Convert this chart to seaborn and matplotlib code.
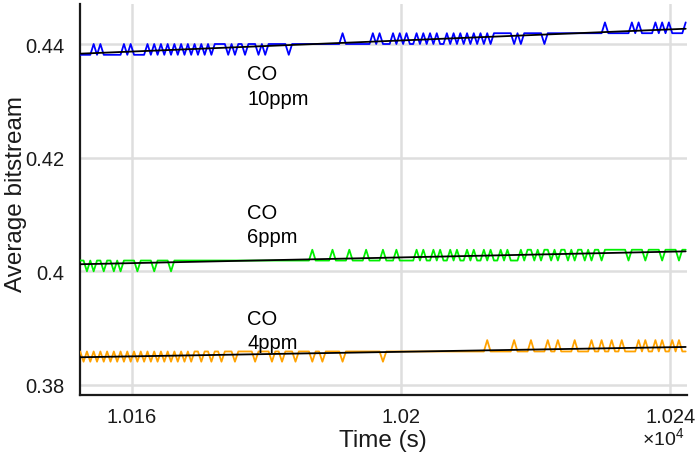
import numpy as np
import pandas as pd
import matplotlib
matplotlib.use("Agg")
import matplotlib.pyplot as plt
import seaborn as sns

# ---------------- data ----------------
t_start = 10152.3          # s, first sample
t_step = 0.5               # s, sampling interval
n_samples = 181

# quantised output levels of each sensor trace
blue_levels = [0.4381, 0.4400, 0.4419, 0.4438]
green_levels = [0.4000, 0.4019, 0.4038]
orange_levels = [0.3841, 0.3859, 0.3879]

# level index of every sample (CO 10 ppm)
blue_codes = (
    [0, 0, 0, 0] + [1, 0, 1] + [0, 0, 0, 0, 0, 0] + [1, 0, 1] + [0, 0, 0, 0]
    + [1, 0] * 10 + [1, 1, 1, 1] + [0, 1, 0, 1, 1, 0, 1, 1] + [1]
    + [0, 1, 0, 1] + [1, 1, 1, 1, 1] + [0] + [1] * 15 + [2] + [1] * 8
    + [2, 1, 2, 1] + [1, 1]
    + [2, 1, 2, 1, 2, 1, 1, 2, 1, 2, 1, 2, 1, 2, 1, 1, 2, 1, 2, 1, 2, 1, 2, 1, 2, 1, 2, 1, 2, 1]
    + [2] * 6 + [1, 2, 1, 2] + [2] * 5 + [1] + [2] * 16 + [2, 3] + [2] * 6
    + [2, 3, 2, 3] + [2, 2, 2] + [2, 3, 2, 3, 2, 3] + [2, 2, 2] + [2, 3]
)
# CO 6 ppm
green_codes = (
    [1, 1, 0, 1, 0, 1, 1, 0, 1, 1, 0, 1, 0] + [1] * 4 + [0] + [1] * 4 + [0]
    + [1] * 4 + [0] + [1] * 41 + [2] + [1] * 5 + [2] + [1] * 4 + [2] + [1] * 4
    + [2] + [1] * 4 + [2] + [1] * 3 + [2] + [1] * 5
    + [2, 1, 2, 1, 1] * 6 + [1, 2, 1, 2, 2] * 5 + [1, 2, 2]
    + [2] * 5 + [1] + [2] * 4 + [1] + [2] * 4 + [1] + [2] * 4 + [1] + [2, 2]
)
# CO 4 ppm
orange_codes = (
    [1, 0] * 17 + [1]
    + [1, 0, 1, 1, 0, 1, 1, 0, 1, 1, 1, 0] + [1] * 5 + [0] + [1] * 4 + [0]
    + [1, 1, 0] + [1] * 3 + [0] + [1] * 4 + [0] + [1, 1, 0] + [1] * 5 + [0]
    + [1] * 11 + [0] + [1] * 30 + [2] + [1] * 7 + [2] + [1] * 4 + [2] + [1] * 4
    + [2] + [1, 1] + [2] + [1] * 4 + [2] + [1] * 4 + [2] + [1, 1] + [2] + [1, 1]
    + [2] + [1, 1] + [2] + [1] * 4 + [2, 1, 2, 1, 1, 2, 1, 2, 1, 1, 2, 1, 2, 1, 1]
)

labels = ["CO\n10ppm", "CO\n6ppm", "CO\n4ppm"]
label_x = [10177.1, 10177.1, 10177.1]
label_y = [0.4326, 0.4082, 0.3896]

x_ticks = [10160, 10200, 10240]
x_ticklabels = ["1.016", "1.02", "1.024"]
y_ticks = [0.38, 0.40, 0.42, 0.44]
y_ticklabels = ["0.38", "0.4", "0.42", "0.44"]

# ---------------- build frame ----------------
time = t_start + t_step * np.arange(n_samples)
df = pd.DataFrame({
    "time": time,
    "blue": np.array(blue_levels)[blue_codes],
    "green": np.array(green_levels)[green_codes],
    "orange": np.array(orange_levels)[orange_codes],
})

# ---------------- style ----------------
sns.set_style("white")
plt.rcParams["font.family"] = ["Liberation Sans", "DejaVu Sans"]
plt.rcParams["mathtext.fontset"] = "custom"
plt.rcParams["mathtext.rm"] = "Liberation Sans"

fig = plt.figure(figsize=(6.96, 4.64), dpi=100)
ax = fig.add_axes([80 / 696, 1 - 396 / 464, (686.7 - 80) / 696, (396 - 5) / 464])

colors = {"blue": "#0000ff", "green": "#00ee00", "orange": "#ffa200"}
for col in ["blue", "green", "orange"]:
    sns.lineplot(data=df, x="time", y=col, ax=ax, color=colors[col],
                 linewidth=1.3, estimator=None, zorder=3)
    sns.regplot(data=df, x="time", y=col, ax=ax, scatter=False, ci=None,
                color="black", line_kws={"linewidth": 1.3, "zorder": 4})

for txt, lx, ly in zip(labels, label_x, label_y):
    ax.text(lx, ly, txt, fontsize=14.5, ha="left", va="center",
            linespacing=1.35, color="black", zorder=5)

ax.set_xlim(10152.27, 10242.45)
ax.set_ylim(0.37824, 0.44704)
ax.set_xticks(x_ticks)
ax.set_xticklabels(x_ticklabels)
ax.set_yticks(y_ticks)
ax.set_yticklabels(y_ticklabels)

ax.grid(True, color="#dedede", linewidth=1.8, zorder=0)
ax.set_axisbelow(True)
for s in ["top", "right"]:
    ax.spines[s].set_visible(False)
for s in ["left", "bottom"]:
    ax.spines[s].set_color("#1a1a1a")
    ax.spines[s].set_linewidth(1.6)

ax.tick_params(axis="both", direction="in", length=4, width=1.4,
               colors="#1a1a1a", labelsize=14.5, labelcolor="#1a1a1a")
ax.tick_params(axis="x", pad=9)
ax.tick_params(axis="y", pad=11)

ax.set_xlabel("Time (s)", fontsize=17.5, color="#1a1a1a", labelpad=2)
ax.set_ylabel("Average bitstream", fontsize=17.5, color="#1a1a1a")
ax.yaxis.set_label_coords((27 - 80) / 606.7, (396 - 194) / 391)

fig.text(684 / 696, 1 - 439 / 464, r"$\times10^{4}$", fontsize=14,
         ha="right", va="center", color="#1a1a1a")

fig.savefig("out.png", dpi=100)
